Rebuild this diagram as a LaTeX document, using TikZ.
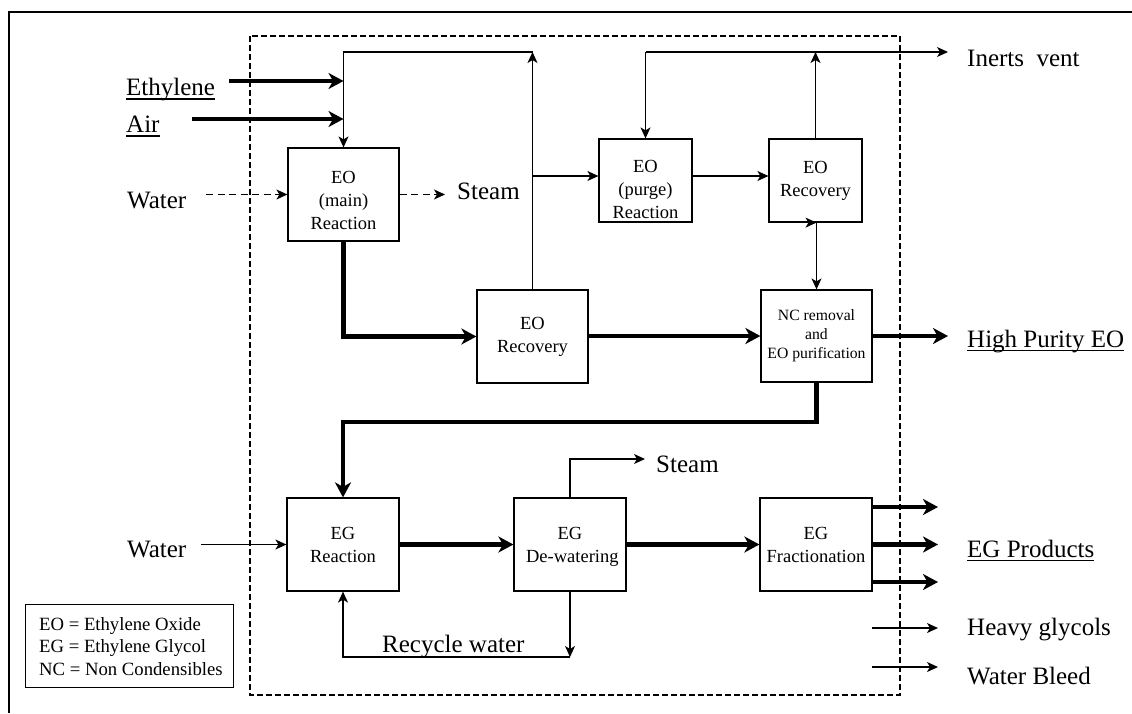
\documentclass[tikz,border=0pt]{standalone}
\usepackage{fontspec}
\setmainfont{Liberation Serif}
\usetikzlibrary{arrows.meta,calc}
\newcommand{\ulbl}[1]{\setbox0=\hbox{#1}\rlap{\vrule height -2.5pt depth 4.2pt width \wd0}\box0}
\tikzset{
  thinln/.style={line width=1.2pt},
  thkln/.style={line width=4.2pt},
  tarr/.style={thinln,-{Stealth[length=11pt,width=10pt,inset=3pt]}},
  karr/.style={thkln,-{Stealth[length=15pt,width=16pt,inset=4.5pt]}},
  darr/.style={tarr,dash pattern=on 7pt off 4.5pt},
  blk/.style={draw,line width=1.2pt,inner sep=0pt},
  bigblk/.style={blk,minimum width=111pt,minimum height=93pt},
  smlblk/.style={blk,minimum width=93pt,minimum height=83pt},
  btxt/.style={font=\fontsize{18.5}{23}\selectfont,align=center,inner sep=0pt},
  stxt/.style={font=\fontsize{15.7}{19}\selectfont,align=center,inner sep=0pt},
  lbl/.style={font=\fontsize{25}{30}\selectfont,inner sep=0pt,anchor=base west},
  lgd/.style={font=\fontsize{18.7}{22.5}\selectfont,inner sep=0pt,anchor=base west}
}
\begin{document}
\begin{tikzpicture}[x=1pt,y=-1pt]
\useasboundingbox (0,0) rectangle (1132,713);
% outer frame and battery limit
\draw[line width=2pt] (9,713) -- (9,12) -- (1132,12);
\draw[line width=1.8pt,dash pattern=on 6pt off 3pt] (250,36) rectangle (900,695);

% blocks
\node[bigblk] (eomain) at (343.5,194.5) {};
\node[btxt] (teomain) at ([yshift=-6.4pt]eomain.center) {EO\\(main)\\Reaction};
\node[smlblk] (purge) at (645.5,180.5) {};
\node[btxt] (tpurge) at ([yshift=-9.4pt]purge.center) {EO\\(purge)\\Reaction};
\node[smlblk] (eorecT) at (815.5,180.5) {};
\node[btxt] (teorecT) at (eorecT.center) {EO\\Recovery};
\node[bigblk] (eorecM) at (532.5,336.5) {};
\node[btxt] (teorecM) at (eorecM.center) {EO\\Recovery};
\node[blk,minimum width=111pt,minimum height=92pt] (nc) at (816.5,336) {};
\node[stxt] (tnc) at (nc.center) {NC removal\\and\\EO purification};
\node[blk,minimum width=112pt,minimum height=93pt] (egr) at (343,544.5) {};
\node[btxt] (tegr) at (egr.center) {EG\\Reaction};
\node[blk,minimum width=112pt,minimum height=93pt] (egd) at (570,544.5) {};
\node[btxt] (tegd) at ([yshift=-2pt]egd.center) {EG\\ \ De-watering};
\node[blk,minimum width=112pt,minimum height=93pt] (egf) at (816,544.5) {};
\node[btxt] (tegf) at (egf.center) {EG\\Fractionation};

% labels
\node[lbl] (lEth) at (126,95.5) {\ulbl{Ethylene}};
\node[lbl] (lAir) at (126,132.5) {\ulbl{Air}};
\node[lbl] (lWat1) at (127,208) {Water};
\node[lbl] (lSteam1) at (457,199) {Steam};
\node[lbl] (lVent) at (967,66) {Inerts\ \ vent};
\node[lbl] (lHP) at (967,347) {\ulbl{High Purity EO}};
\node[lbl] (lSteam2) at (656,472) {Steam};
\node[lbl] (lWat2) at (127,557) {Water};
\node[lbl] (lEG) at (967,557) {\ulbl{EG Products}};
\node[lbl] (lHG) at (967,635) {Heavy glycols};
\node[lbl] (lWB) at (967,684) {Water Bleed};
\node[lbl] (lRW) at (382,652) {Recycle water};

% legend
\node[blk,minimum width=208pt,minimum height=83pt,anchor=north west] (legend) at (25,604) {};
\node[lgd] (lg1) at (39,630) {EO = Ethylene Oxide};
\node[lgd] (lg2) at (39,652.5) {EG = Ethylene Glycol};
\node[lgd] (lg3) at (39,675) {NC = Non Condensibles};

% coordinates
\coordinate (ethS) at (229,81);
\coordinate (airS) at (192,119);
\coordinate (topL) at (343.5,52);
\coordinate (topM) at (532.5,52);
\coordinate (brM) at (532.5,176);
\coordinate (ventL) at (645.5,52);
\coordinate (ventR) at (948,52);
\coordinate (watS) at (206,194.5);
\coordinate (stmE) at (445,194.5);
\coordinate (hpE) at (948,336);
\coordinate (lowY) at (343,422);
\coordinate (wat2S) at (201,544.5);
\coordinate (stm2C) at (570,459);
\coordinate (stm2E) at (645,459);
\coordinate (rwC) at (570,657);
\coordinate (prodE) at (938,544.5);

% EO section
\draw[karr] (ethS) -- (ethS -| eomain.north);
\draw[karr] (airS) -- (airS -| eomain.north);
\draw[tarr] (eorecM.north) -- (topM);
\draw[tarr] (topM) -- (topL) -- (eomain.north);
\draw[tarr] (brM) -- (brM -| purge.west);
\draw[darr] (watS) -- (eomain.west);
\draw[darr] (eomain.east) -- (stmE);
\draw[tarr] ($(purge.east)+(0,-4.5)$) -- ($(eorecT.west)+(0,-4.5)$);
\draw[tarr] (eorecT.north) -- (eorecT.north |- ventR);
\draw[tarr] (ventL) -- (ventR);
\draw[tarr] (ventL) -- (purge.north);
\draw[tarr] (eorecT.south) -- (eorecT.south -| nc.north) ;
\draw[tarr] (nc.north |- eorecT.south) -- (nc.north);
\draw[karr] (eomain.south) -- (eomain.south |- eorecM.west) -- (eorecM.west);
\draw[karr] (eorecM.east) -- (eorecM.east |- nc.west) -- (nc.west);
\draw[karr] (nc.east) -- (hpE);
\draw[karr] (nc.south) -- (nc.south |- lowY) -- (lowY) -- (egr.north);

% EG section
\draw[tarr] (wat2S) -- (egr.west);
\draw[karr] (egr.east) -- (egd.west);
\draw[tarr] (egd.north) -- (stm2C) -- (stm2E);
\draw[karr] (egd.east) -- (egf.west);
\draw[karr] ($(egf.east)+(0,-37.5)$) -- ($(prodE)+(0,-37.5)$);
\draw[karr] (egf.east) -- (prodE);
\draw[karr] ($(egf.east)+(0,37.5)$) -- ($(prodE)+(0,37.5)$);
\coordinate (hgS) at (872,628);
\coordinate (hgE) at (938,628);
\coordinate (wbS) at (872,667);
\coordinate (wbE) at (938,667);
\draw[tarr] (hgS) -- (hgE);
\draw[tarr] (wbS) -- (wbE);
\draw[tarr] (egd.south) -- (rwC);
\draw[tarr] (rwC) -- (rwC -| egr.south) -- (egr.south);
\end{tikzpicture}
\end{document}
